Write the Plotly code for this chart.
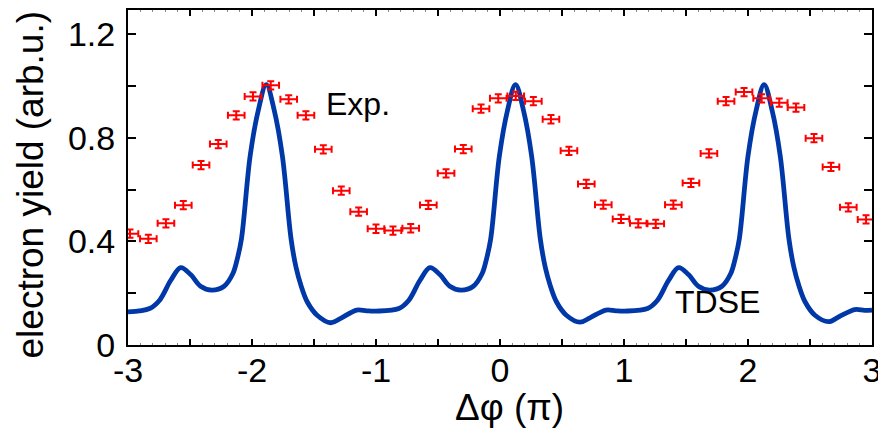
import plotly.graph_objects as go

# Experimental data (Exp.)
exp_x = [-2.984, -2.836, -2.694, -2.554, -2.411, -2.272, -2.127, -1.992, -1.849, -1.704,
         -1.565, -1.425, -1.280, -1.140, -1.000, -0.863, -0.720, -0.578, -0.435, -0.296,
         -0.153, -0.014, 0.127, 0.269, 0.411, 0.556, 0.696, 0.833, 0.976, 1.115,
         1.256, 1.398, 1.540, 1.685, 1.823, 1.968, 2.110, 2.252, 2.387, 2.532,
         2.669, 2.809, 2.952]
exp_y = [0.430, 0.410, 0.470, 0.540, 0.695, 0.776, 0.887, 0.960, 1.003, 0.949,
         0.887, 0.756, 0.596, 0.515, 0.449, 0.442, 0.451, 0.541, 0.663, 0.757,
         0.913, 0.953, 0.962, 0.942, 0.872, 0.750, 0.622, 0.542, 0.487, 0.470,
         0.468, 0.542, 0.626, 0.740, 0.942, 0.977, 0.953, 0.936, 0.917, 0.799,
         0.688, 0.532, 0.485]
exp_xerr = 0.067
exp_yerr = 0.016

# TDSE calculation
tdse_x = [-3.00,
          -2.825, -2.745, -2.655, -2.575, -2.495, -2.415, -2.325, -2.225, -2.155, -2.12, -2.085,
          -2.015, -1.95, -1.885, -1.82, -1.755, -1.685, -1.645, -1.605, -1.555, -1.475, -1.365,
          -1.285, -1.155, -1.075,
          -1.00,
          -0.815, -0.735, -0.645, -0.565, -0.485, -0.405, -0.315, -0.215, -0.145, -0.11, -0.075,
          -0.005, 0.06, 0.125, 0.19, 0.255, 0.325, 0.365, 0.405, 0.455, 0.535, 0.645,
          0.725, 0.855, 0.935,
          1.005,
          1.19, 1.27, 1.36, 1.44, 1.52, 1.60, 1.69, 1.79, 1.86, 1.895, 1.93,
          2.00, 2.065, 2.13, 2.195, 2.26, 2.33, 2.37, 2.41, 2.46, 2.54, 2.65,
          2.73, 2.86, 2.94,
          3.00]
tdse_y = [0.128,
          0.141, 0.173, 0.250, 0.299, 0.272, 0.227, 0.212, 0.227, 0.275, 0.330, 0.410,
          0.730, 0.905, 1.006, 0.905, 0.730, 0.410, 0.300, 0.230, 0.167, 0.115, 0.086,
          0.103, 0.135, 0.132,
          0.131,
          0.141, 0.173, 0.250, 0.299, 0.272, 0.227, 0.212, 0.227, 0.275, 0.330, 0.410,
          0.730, 0.905, 1.006, 0.905, 0.730, 0.410, 0.300, 0.230, 0.167, 0.115, 0.088,
          0.105, 0.135, 0.132,
          0.131,
          0.141, 0.173, 0.250, 0.299, 0.272, 0.227, 0.212, 0.227, 0.275, 0.330, 0.410,
          0.730, 0.905, 1.006, 0.905, 0.730, 0.410, 0.300, 0.230, 0.167, 0.115, 0.090,
          0.108, 0.137, 0.134,
          0.135]

x_tickvals = [-3, -2.5, -2, -1.5, -1, -0.5, 0, 0.5, 1, 1.5, 2, 2.5, 3]
x_ticktext = ["-3", "", "-2", "", "-1", "", "0", "", "1", "", "2", "", "3"]
y_tickvals = [0, 0.2, 0.4, 0.6, 0.8, 1.0, 1.2]
y_ticktext = ["0", "", "0.4", "", "0.8", "", "1.2"]

FONT = "Liberation Sans, Arial, sans-serif"

fig = go.Figure()
fig.add_trace(go.Scatter(
    x=tdse_x, y=tdse_y, mode="lines",
    line=dict(color="#0038A8", width=4.8, shape="spline", smoothing=1.0),
    showlegend=False, hoverinfo="skip"))
fig.add_trace(go.Scatter(
    x=exp_x, y=exp_y, mode="markers",
    marker=dict(size=2, color="rgba(0,0,0,0)"),
    error_x=dict(type="constant", value=exp_xerr, color="#FF0000", thickness=2, width=3.5),
    error_y=dict(type="constant", value=exp_yerr, color="#FF0000", thickness=2, width=3.5),
    showlegend=False))

fig.add_annotation(x=-1.145, y=0.93, text="Exp.", showarrow=False,
                   font=dict(family=FONT, size=32, color="black"))
fig.add_annotation(x=1.758, y=0.165, text="TDSE", showarrow=False,
                   font=dict(family=FONT, size=32, color="black"))
# axis titles
fig.add_annotation(xref="paper", yref="paper", x=0.5, y=0, xshift=9, yshift=-62,
                   text="Δφ (π)", showarrow=False, yanchor="middle",
                   font=dict(family=FONT, size=37, color="black"))
fig.add_annotation(xref="paper", yref="paper", x=0, y=0.5, xshift=-98, yshift=-7,
                   text="electron yield (arb.u.)", showarrow=False, textangle=-90,
                   xanchor="center", yanchor="middle",
                   font=dict(family=FONT, size=37, color="black"))

fig.update_layout(
    width=878, height=430,
    margin=dict(l=120, r=14, t=2, b=93),
    paper_bgcolor="white", plot_bgcolor="white",
    font=dict(family=FONT, color="black"),
    xaxis=dict(range=[-3, 3], showgrid=False, zeroline=False, automargin=False,
               showline=True, linecolor="black", linewidth=2, mirror="allticks",
               ticks="inside", ticklen=6, tickwidth=1.5, tickcolor="black",
               tickvals=x_tickvals, ticktext=x_ticktext, ticklabelstandoff=-6,
               tickfont=dict(size=34, family=FONT),
               minor=dict(dtick=0.1, ticks="inside", ticklen=2, tickwidth=1, tickcolor="#888")),
    yaxis=dict(range=[0, 1.294], showgrid=False, zeroline=False, automargin=False,
               showline=True, linecolor="black", linewidth=2, mirror="allticks",
               ticks="inside", ticklen=8, tickwidth=1.5, tickcolor="black",
               tickvals=y_tickvals, ticktext=y_ticktext, ticklabelstandoff=4,
               tickfont=dict(size=34, family=FONT)),
)

fig.write_html("out.html")
